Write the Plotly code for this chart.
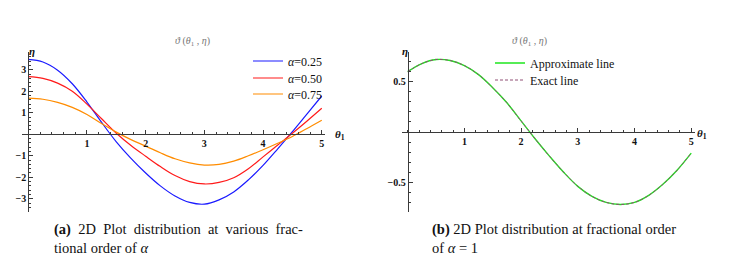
import plotly.graph_objects as go

W, H = 732, 265
OFF = 8  # page body margin offset of the plot div

# ---------------- data ----------------
theta = [0, 0.25, 0.5, 0.75, 1.0, 1.25, 1.5, 1.75, 2.0, 2.25, 2.5,
         2.75, 3.0, 3.25, 3.5, 3.75, 4.0, 4.25, 4.5, 4.75, 5.0]

alpha_labels = ["α=0.25", "α=0.50", "α=0.75"]
eta_a025 = [3.48, 3.36, 2.98, 2.35, 1.50, 0.55, -0.35, -1.12, -1.80, -2.40, -2.87,
            -3.17, -3.25, -3.05, -2.68, -2.12, -1.45, -0.68, 0.12, 0.95, 1.78]
eta_a050 = [2.68, 2.60, 2.38, 2.00, 1.40, 0.72, 0.05, -0.52, -1.02, -1.50, -1.92,
            -2.20, -2.31, -2.24, -2.02, -1.60, -1.05, -0.50, 0.05, 0.62, 1.21]
eta_a075 = [1.68, 1.63, 1.48, 1.25, 0.92, 0.50, 0.10, -0.25, -0.55, -0.86, -1.14,
            -1.33, -1.43, -1.40, -1.25, -1.00, -0.72, -0.42, -0.10, 0.27, 0.65]

eta_approx = [0.60, 0.68, 0.72, 0.71, 0.66, 0.57, 0.44, 0.29, 0.11, -0.07, -0.24,
              -0.40, -0.54, -0.64, -0.70, -0.72, -0.70, -0.63, -0.52, -0.38, -0.21]
eta_exact = [0.60, 0.68, 0.72, 0.71, 0.66, 0.57, 0.44, 0.29, 0.11, -0.07, -0.24,
             -0.40, -0.54, -0.64, -0.70, -0.72, -0.70, -0.63, -0.52, -0.38, -0.21]

xticks = [1, 2, 3, 4, 5]
yticks_a = [-3, -2, -1, 1, 2, 3]
yticks_b = [-0.5, 0.5]
yticklabels_b = ["−0.5", "0.5"]

colors_a = ["#1a1aff", "#ff1a1a", "#ff8c00"]

# ---------------- layout geometry ----------------
def px(x):
    return (x - OFF) / W


def py(y):
    return 1 - (y - OFF) / H


xr_a = [-0.11, 5.05]
yr_a = [-3.6, 3.84]
xr_b = [-0.10, 5.07]
yr_b = [-0.79, 0.80]

xd_a = [px(21.8), px(324.7)]
yd_a = [py(211.7), py(51.7)]
xd_b = [px(402.0), px(695.2)]
yd_b = [py(211.5), py(51.5)]


def cross_pos(dom, rng):
    return dom[0] + (dom[1] - dom[0]) * (0 - rng[0]) / (rng[1] - rng[0])


AX = "#3a3a3a"
SERIF = "Liberation Serif, Times New Roman, serif"
tickfont = dict(family=SERIF, size=10, color="#111", weight="bold")


def xaxis(dom, rng, ydom, yrng):
    return dict(domain=dom, range=rng, anchor="free", position=cross_pos(ydom, yrng),
                showline=True, linecolor=AX, linewidth=1, zeroline=False, showgrid=False,
                tickmode="array", tickvals=xticks, ticks="inside", ticklen=4,
                tickcolor=AX, tickwidth=1, tickfont=tickfont,
                minor=dict(tickmode="linear", tick0=0, dtick=0.2, ticks="inside",
                           ticklen=2, tickcolor=AX, showgrid=False))


fig = go.Figure()

legend_names_a = ["legend", "legend3", "legend4"]
for lab, ys, c, lg in zip(alpha_labels, [eta_a025, eta_a050, eta_a075], colors_a, legend_names_a):
    fig.add_trace(go.Scatter(x=theta, y=ys, mode="lines", name=lab.replace("α", "<i>α</i>"),
                             line=dict(color=c, width=1.2, shape="spline"),
                             xaxis="x", yaxis="y", legend=lg))

fig.add_trace(go.Scatter(x=theta, y=eta_approx, mode="lines", name="Approximate line",
                         line=dict(color="#1ee61e", width=1.4, shape="spline"),
                         xaxis="x2", yaxis="y2", legend="legend2"))
fig.add_trace(go.Scatter(x=theta, y=eta_exact, mode="lines", name="Exact line",
                         line=dict(color="#904e74", width=1.0, shape="spline", dash="3px,2px"),
                         xaxis="x2", yaxis="y2", legend="legend5"))

legfont = dict(family=SERIF, size=12, color="#111")


def leg(xp, yp):
    return dict(x=px(xp), y=py(yp), xanchor="left", yanchor="middle",
                bgcolor="rgba(0,0,0,0)", font=legfont, borderwidth=0)


fig.update_layout(
    width=W, height=H,
    margin=dict(l=0, r=0, t=0, b=0),
    paper_bgcolor="white", plot_bgcolor="rgba(0,0,0,0)",
    font=dict(family=SERIF, color="#111"),
    showlegend=True,
    xaxis=xaxis(xd_a, xr_a, yd_a, yr_a),
    yaxis=dict(domain=yd_a, range=yr_a, anchor="free", position=cross_pos(xd_a, xr_a),
               showline=True, linecolor=AX, linewidth=1, zeroline=False, showgrid=False,
               tickmode="array", tickvals=yticks_a, ticks="inside", ticklen=4,
               tickcolor=AX, tickfont=tickfont,
               minor=dict(tickmode="linear", tick0=0, dtick=0.2, ticks="inside",
                          ticklen=2, tickcolor=AX, showgrid=False)),
    xaxis2=xaxis(xd_b, xr_b, yd_b, yr_b),
    yaxis2=dict(domain=yd_b, range=yr_b, anchor="free", position=cross_pos(xd_b, xr_b),
                showline=True, linecolor=AX, linewidth=1, zeroline=False, showgrid=False,
                tickmode="array", tickvals=yticks_b, ticktext=yticklabels_b,
                ticks="inside", ticklen=4, tickcolor=AX, tickfont=tickfont,
                minor=dict(tickmode="linear", tick0=0, dtick=0.1, ticks="inside",
                           ticklen=2, tickcolor=AX, showgrid=False)),
    legend=leg(248, 61),
    legend3=leg(248, 78),
    legend4=leg(248, 94),
    legend2=leg(490, 63),
    legend5=leg(490, 80),
)

ann = []
title_txt = "<i>ϑ</i> (<i>θ</i><sub>1</sub> , <i>η</i>)"
for cx in (173, 549):
    ann.append(dict(x=px(cx), y=py(33), xref="paper", yref="paper", text=title_txt,
                    showarrow=False, font=dict(family=SERIF, size=10, color="#777")))
for (ex, ey) in ((27, 43), (405, 43)):
    ann.append(dict(x=px(ex), y=py(ey), xref="paper", yref="paper",
                    text="<b><i>η</i></b>", showarrow=False,
                    font=dict(family=SERIF, size=11, color="#111")))
for (tx, ty) in ((340, 135), (709, 134)):
    ann.append(dict(x=px(tx), y=py(ty), xref="paper", yref="paper",
                    text="<b><i>θ</i><sub>1</sub></b>", showarrow=False,
                    font=dict(family=SERIF, size=11, color="#111")))

capfont = dict(family=SERIF, size=14.5, color="#111")
ES = "\u2002"  # wider space to mimic the justified first line
cap_a = ("<b>(a)</b>" + ES + ES.join(["2D", "Plot", "distribution", "at", "various", "frac-"])
         + "<br>tional order of <i>α</i>")
cap_b = "<b>(b)</b> 2D Plot distribution at fractional order<br>of <i>α</i> = 1"
ann.append(dict(x=px(52), y=py(238), xref="paper", yref="paper", xanchor="left",
                yanchor="middle", align="left", showarrow=False, text=cap_a, font=capfont))
ann.append(dict(x=px(430), y=py(238), xref="paper", yref="paper", xanchor="left",
                yanchor="middle", align="left", showarrow=False, text=cap_b, font=capfont))

fig.update_layout(annotations=ann)
fig.write_html("out.html")
